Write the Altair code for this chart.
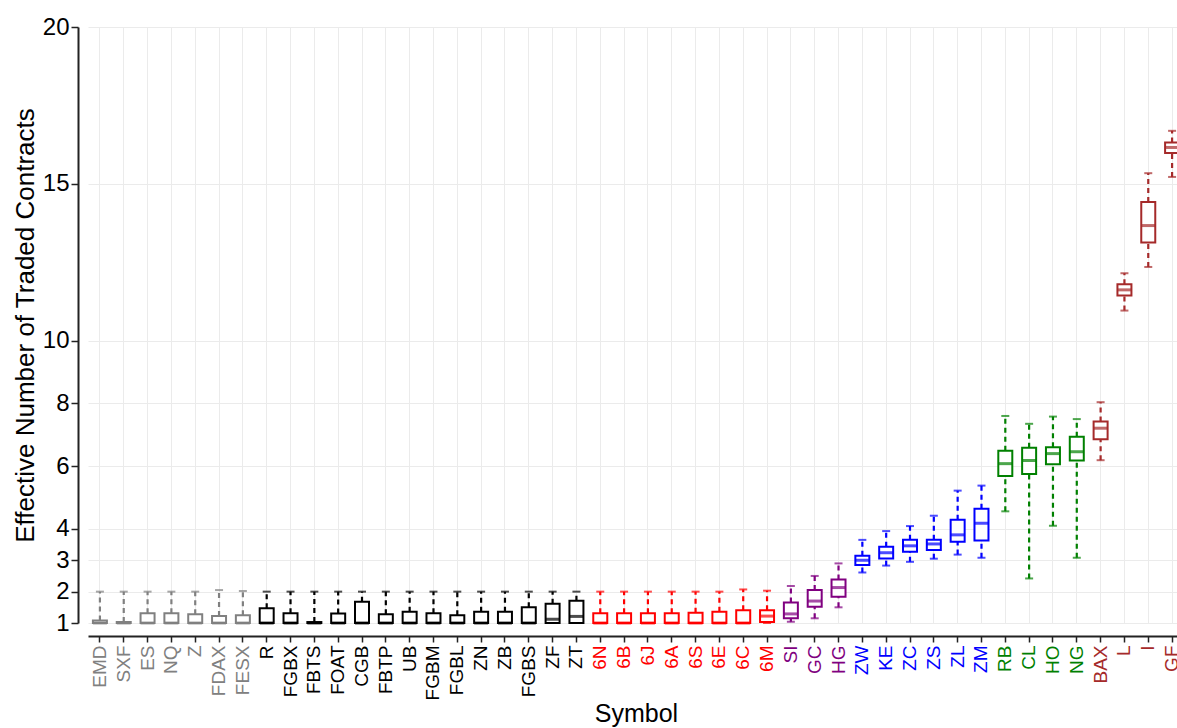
import json
import altair as alt
import pandas as pd

symbols = ["EMD", "SXF", "ES", "NQ", "Z", "FDAX", "FESX",
           "R", "FGBX", "FBTS", "FOAT", "CGB", "FBTP", "UB", "FGBM", "FGBL", "ZN", "ZB", "FGBS", "ZF", "ZT",
           "6N", "6B", "6J", "6A", "6S", "6E", "6C", "6M",
           "SI", "GC", "HG",
           "ZW", "KE", "ZC", "ZS", "ZL", "ZM",
           "RB", "CL", "HO", "NG",
           "BAX", "L", "I", "GF"]
groups = (["equity"] * 7 + ["rates"] * 14 + ["fx"] * 8 + ["metals"] * 3 +
          ["grains"] * 6 + ["energy"] * 4 + ["stir"] * 4)

lo = [1.0, 1.0, 1.0, 1.0, 1.0, 1.0, 1.0,
      1.0, 1.0, 1.0, 1.0, 1.0, 1.0, 1.0, 1.0, 1.0, 1.0, 1.0, 1.0, 1.0, 1.0,
      1.0, 1.0, 1.0, 1.0, 1.0, 1.0, 1.0, 1.0,
      1.04, 1.15, 1.50,
      2.61, 2.83, 2.95, 3.05, 3.18, 3.08,
      4.56, 2.42, 4.10, 3.08,
      6.19, 10.96, 12.35, 15.22]
q1 = [1.0, 1.0, 1.0, 1.0, 1.0, 1.0, 1.0,
      1.0, 1.0, 1.0, 1.0, 1.0, 1.0, 1.0, 1.0, 1.0, 1.0, 1.0, 1.0, 1.0, 1.0,
      1.0, 1.0, 1.0, 1.0, 1.0, 1.0, 1.0, 1.03,
      1.15, 1.52, 1.84,
      2.85, 3.06, 3.27, 3.33, 3.59, 3.63,
      5.69, 5.75, 6.06, 6.18,
      6.86, 11.44, 13.13, 15.98]
med = [1.0, 1.0, 1.0, 1.0, 1.0, 1.0, 1.0,
       1.0, 1.0, 1.0, 1.0, 1.0, 1.0, 1.0, 1.0, 1.0, 1.0, 1.0, 1.0, 1.12, 1.21,
       1.0, 1.0, 1.0, 1.0, 1.0, 1.0, 1.0, 1.22,
       1.29, 1.70, 2.13,
       3.0, 3.24, 3.46, 3.52, 3.81, 4.18,
       6.08, 6.18, 6.40, 6.46,
       7.21, 11.62, 13.67, 16.16]
q3 = [1.08, 1.03, 1.31, 1.31, 1.28, 1.22, 1.25,
      1.47, 1.31, 1.03, 1.30, 1.68, 1.28, 1.36, 1.31, 1.25, 1.36, 1.36, 1.50, 1.61, 1.71,
      1.31, 1.31, 1.31, 1.31, 1.33, 1.36, 1.41, 1.41,
      1.65, 2.05, 2.39,
      3.14, 3.43, 3.65, 3.65, 4.29, 4.64,
      6.49, 6.59, 6.60, 6.94,
      7.42, 11.80, 14.42, 16.32]
hi = [2.0, 2.0, 2.0, 2.0, 2.0, 2.05, 2.02,
      2.0, 2.0, 2.0, 2.0, 2.0, 2.0, 2.0, 2.0, 2.0, 2.0, 2.0, 2.0, 2.0, 2.0,
      2.0, 2.0, 2.0, 2.0, 2.0, 2.0, 2.07, 2.03,
      2.18, 2.50, 2.90,
      3.65, 3.93, 4.09, 4.42, 5.22, 5.38,
      7.60, 7.35, 7.58, 7.50,
      8.04, 12.15, 15.34, 16.69]

group_names = ["equity", "rates", "fx", "metals", "grains", "energy", "stir"]
group_colors = ["#808080", "#000000", "#FF0000", "#800080", "#0000FF", "#008000", "#A52A2A"]
y_ticks = [1, 2, 3, 4, 6, 8, 10, 15, 20]

df = pd.DataFrame({"sym": symbols, "grp": groups, "lo": lo, "q1": q1,
                   "med": med, "q3": q3, "hi": hi})

conds = []
for g, c in zip(group_names, group_colors):
    members = [s for s, gg in zip(symbols, groups) if gg == g]
    conds.append({"test": f"indexof({json.dumps(members)}, datum.value) >= 0", "value": c})
label_color = {"condition": conds, "value": "black"}

FONT = "Liberation Sans"

x_enc = alt.X(
    "sym:N",
    scale=alt.Scale(domain=symbols, range=[0, 1096], paddingInner=0, paddingOuter=0),
    axis=alt.Axis(title="Symbol", labelAngle=-90, labelFontSize=19, labelColor=label_color,
                  titleFontSize=25, titleFontWeight="normal", titlePadding=2,
                  tickSize=6, labelPadding=3, offset=13, grid=True,
                  domainWidth=2, tickWidth=1.5),
)


def y_enc(field):
    return alt.Y(
        f"{field}:Q",
        scale=alt.Scale(domain=[1, 20], nice=False, zero=False),
        axis=alt.Axis(title="Effective Number of Traded Contracts", values=y_ticks,
                      labelFontSize=24, titleFontSize=26, titleFontWeight="normal",
                      titlePadding=4, tickSize=7, labelPadding=2, offset=10,
                      domainWidth=2, tickWidth=1.5, grid=True),
    )


color_enc = alt.Color("grp:N", scale=alt.Scale(domain=group_names, range=group_colors), legend=None)

base = alt.Chart(df)

upper = base.mark_rule(strokeWidth=2.2, strokeDash=[5, 4]).encode(
    x=x_enc, y=y_enc("q3"), y2="hi", color=color_enc)
lower = base.mark_rule(strokeWidth=2.2, strokeDash=[5, 4]).encode(
    x=x_enc, y=y_enc("lo"), y2="q1", color=color_enc)
staple_hi = base.mark_tick(size=8, thickness=2).encode(x=x_enc, y=y_enc("hi"), color=color_enc)
staple_lo = base.mark_tick(size=8, thickness=2).encode(x=x_enc, y=y_enc("lo"), color=color_enc)
box = base.mark_bar(size=14, fill="white", strokeWidth=2).encode(
    x=x_enc, y=y_enc("q1"), y2="q3", stroke=color_enc)
median = base.mark_tick(size=14, thickness=3).encode(x=x_enc, y=y_enc("med"), color=color_enc)

chart = alt.layer(upper, lower, staple_hi, staple_lo, box, median).properties(
    width=1089,
    height=596,
    autosize=alt.AutoSizeParams(type="none"),
    padding={"left": 88, "top": 27, "right": 0, "bottom": 105},
    background="white",
).configure_view(stroke=None).configure_axis(
    labelFont=FONT, titleFont=FONT, domainColor="#222222", tickColor="#222222",
    gridColor="#EBEBEB", gridWidth=1, titleColor="black",
)

chart.save("out.html", embed_options={"renderer": "svg", "actions": False})
